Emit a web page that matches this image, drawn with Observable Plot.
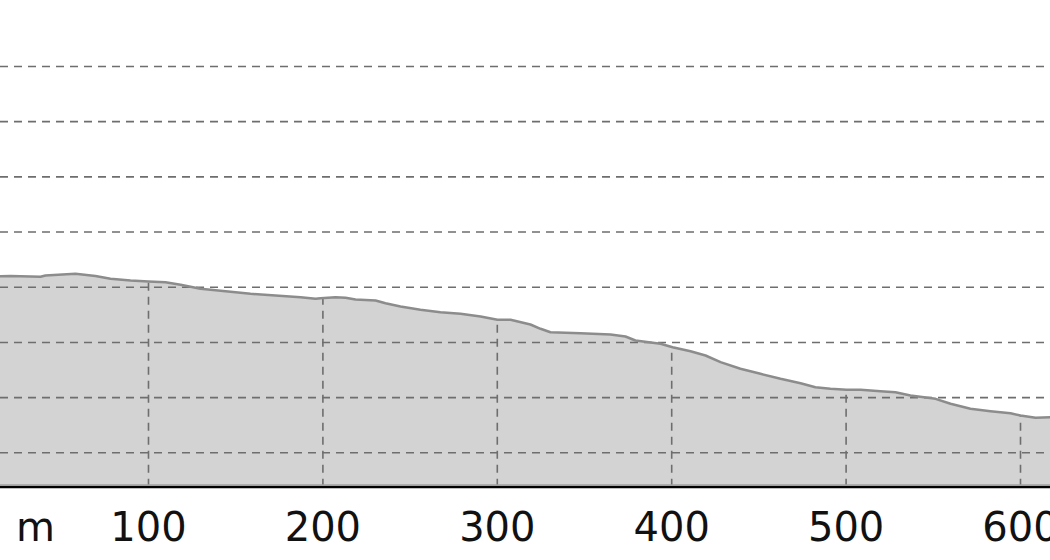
<!DOCTYPE html>
<html>
<head>
<meta charset="utf-8">
<script src="https://cdn.jsdelivr.net/npm/d3@7"></script>
<script src="https://cdn.jsdelivr.net/npm/@observablehq/plot@0.6"></script>
<style>
  html, body { margin: 0; padding: 0; background: #fff; }
  #chart { width: 1050px; height: 560px; overflow: hidden; }
</style>
</head>
<body>
<div id="chart"></div>
<script>
// Distance along the profile (m)
const distance = [15.1, 20.9, 38.1, 40.9, 58.1, 69.6, 78.2, 89.7, 100.0, 109.7, 118.4, 129.8, 144.2, 158.5, 172.8, 187.2, 195.8, 198.6, 207.2, 213.0, 218.7, 230.2, 235.9, 244.5, 255.9, 267.4, 278.9, 290.4, 300.1, 307.6, 319.0, 324.8, 330.5, 347.7, 364.9, 373.5, 379.2, 393.6, 400.5, 410.8, 419.4, 428.0, 439.4, 450.9, 462.4, 473.9, 482.4, 491.0, 500.2, 508.3, 519.7, 528.3, 536.9, 551.3, 559.9, 571.3, 582.8, 594.3, 600.0, 608.6, 617.2];
// Elevation (relative units, gridline every 10)
const elevation = [42.0, 42.03, 41.89, 42.13, 42.43, 42.03, 41.53, 41.22, 41.04, 40.91, 40.44, 39.72, 39.28, 38.81, 38.50, 38.19, 37.90, 38.01, 38.19, 38.08, 37.78, 37.60, 37.11, 36.51, 35.91, 35.48, 35.19, 34.70, 34.10, 34.10, 33.25, 32.47, 31.85, 31.67, 31.43, 31.07, 30.35, 29.75, 29.13, 28.41, 27.63, 26.42, 25.22, 24.31, 23.41, 22.61, 21.89, 21.60, 21.42, 21.42, 21.16, 20.98, 20.38, 19.78, 18.88, 17.97, 17.54, 17.18, 16.76, 16.34, 16.45];
const xTicks = [100, 200, 300, 400, 500, 600];
const yGrid = [10, 20, 30, 40, 50, 60, 70, 80];
const unitLabel = ["m"];
const xDomain = [15.14, 617.2];
const yDomain = [3.77, 91.95];

const data = distance.map((d, i) => ({d, e: elevation[i]}));
const yBase = yDomain[0];
const interp = (x) => {
  const i = d3.bisectLeft(distance, x);
  if (i <= 0) return elevation[0];
  if (i >= distance.length) return elevation[elevation.length - 1];
  const x0 = distance[i - 1], x1 = distance[i];
  const t = (x - x0) / (x1 - x0);
  return elevation[i - 1] + t * (elevation[i] - elevation[i - 1]);
};

const font = "'DejaVu Sans', sans-serif";

const chart = Plot.plot({
  width: 1050,
  height: 560,
  marginLeft: 0,
  marginRight: 0,
  marginTop: 0,
  marginBottom: 73.3,
  style: { fontFamily: font, background: "#fff" },
  x: { domain: xDomain, axis: null, label: null },
  y: { domain: yDomain, axis: null, label: null },
  marks: [
    Plot.areaY(data, { x: "d", y1: yBase, y2: "e", fill: "#d3d3d3" }),
    Plot.ruleX(xTicks, { x: (d) => d, y1: yBase, y2: (d) => interp(d), stroke: "#6e6e6e", strokeWidth: 1.6, strokeDasharray: "8,6" }),
    Plot.ruleY(yGrid, { y: (d) => d, stroke: "#6e6e6e", strokeWidth: 1.6, strokeDasharray: "8,6" }),
    Plot.line(data, { x: "d", y: "e", stroke: "#8c8c8c", strokeWidth: 2.5 }),
    Plot.ruleY([yBase], { y: (d) => d, stroke: "#a0a0a0", strokeWidth: 2, dy: -2 }),
    Plot.ruleY([yBase], { y: (d) => d, stroke: "#000", strokeWidth: 2.2 }),
    Plot.axisX(xTicks, { tickSize: 0, tickPadding: 25, fontSize: 40, fontFamily: font, fill: "#111", label: null }),
    Plot.text(unitLabel, { frameAnchor: "bottom-left", text: (d) => d, dx: 35, dy: 25, lineAnchor: "top", textAnchor: "middle", fontSize: 40, fontFamily: font, fill: "#111" })
  ]
});
document.getElementById("chart").appendChild(chart);
</script>
</body>
</html>
